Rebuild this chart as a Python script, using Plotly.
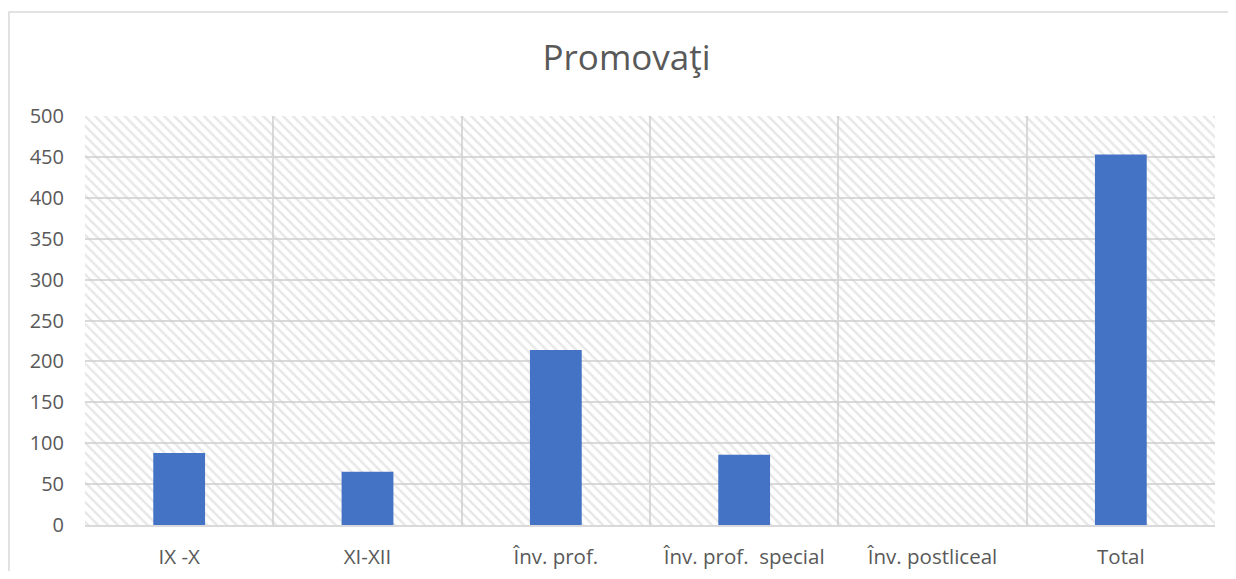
import plotly.graph_objects as go

categories = ["IX -X", "XI-XII", "Înv. prof.", "Înv. prof.\u00a0 special", "Înv. postliceal", "Total"]
promovati = [88, 65, 214, 86, 0, 453]
y_max = 500
y_tick_step = 50
title_text = "Promovaţi"

FONT = "'Open Sans', 'Noto Sans', sans-serif"
GRID = "#d9d9d9"
TEXT = "#595959"

fig = go.Figure()

# hatched plot-area background (one full-width band per category)
fig.add_trace(go.Bar(
    x=categories, y=[y_max] * len(categories), width=1,
    marker=dict(color="rgba(0,0,0,0)", line=dict(width=0),
                pattern=dict(shape="\\", fgcolor="#cfcfcf", bgcolor="rgba(0,0,0,0)",
                             size=7, solidity=0.35)),
    hoverinfo="skip", showlegend=False,
))

fig.add_trace(go.Bar(
    x=categories, y=promovati, width=0.275,
    marker=dict(color="#4472C4", line=dict(width=0)),
    showlegend=False,
))

# page body has an 8px margin, so the figure is sized to fit inside the window
fig.update_layout(
    width=1220, height=563,
    margin=dict(l=77, r=13, t=108, b=46),
    paper_bgcolor="white", plot_bgcolor="white",
    barmode="overlay",
    title=dict(text=title_text, x=0.507, xanchor="center", y=1 - 50 / 563, yanchor="middle",
               font=dict(family=FONT, size=35, color=TEXT)),
    xaxis=dict(type="category", tickson="boundaries", showgrid=True, gridcolor=GRID, gridwidth=1.5,
               ticks="", showline=True, linecolor=GRID, linewidth=1.5, mirror=False,
               automargin=False,
               tickfont=dict(family=FONT, size=20.5, color=TEXT), ticklabelstandoff=13),
    yaxis=dict(range=[0, y_max], dtick=y_tick_step, showgrid=True, gridcolor=GRID, gridwidth=1.5,
               zeroline=False, ticks="", showline=False, automargin=False,
               tickfont=dict(family=FONT, size=20, color=TEXT), ticklabelstandoff=20),
    shapes=[dict(type="rect", xref="paper", yref="paper",
                 x0=-0.0673, x1=1.2, y0=-0.3, y1=1.254,
                 line=dict(color=GRID, width=1.5), fillcolor="rgba(0,0,0,0)", layer="below")],
)

fig.write_html("out.html")
